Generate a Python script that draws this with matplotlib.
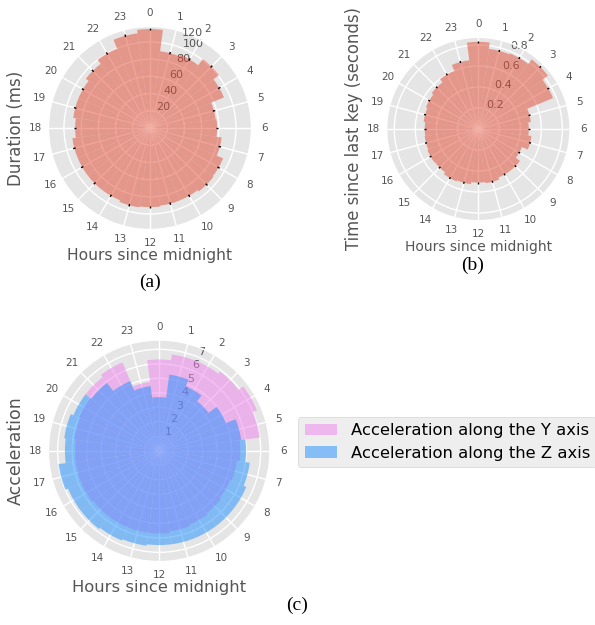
import numpy as np
import matplotlib

matplotlib.use("Agg")
import matplotlib.pyplot as plt
from matplotlib.patches import Patch

plt.style.use("ggplot")

HOURS = list(range(24))
HOUR_LABELS = [str(h) for h in HOURS]

# (a) keystroke duration, ms
DURATION = [115, 90, 92, 101, 93, 77, 78, 84, 92, 93, 91, 91,
            92, 93, 91, 91, 91, 91, 87, 90, 90, 94, 100, 111]
DURATION_ERR = [1.5] * 24
DURATION_TICKS = [20, 40, 60, 80, 100]

# (b) time since last key, s
GAP = [0.83, 0.77, 0.78, 0.835, 0.77, 0.505, 0.48, 0.51, 0.45, 0.50, 0.50, 0.52,
       0.51, 0.53, 0.54, 0.52, 0.525, 0.515, 0.51, 0.525, 0.54, 0.56, 0.60, 0.66]
GAP_ERR = [0.01] * 24
GAP_TICKS = [0.2, 0.4, 0.6, 0.8]

# (c) acceleration along Y and Z
ACC_Y = [6.3, 6.7, 6.7, 6.9, 7.3, 7.0, 5.6, 5.4, 5.3, 5.4, 5.5, 5.6,
         5.7, 5.7, 5.7, 5.7, 5.8, 5.8, 5.8, 5.9, 6.0, 6.4, 6.6, 4.8]
ACC_Z = [3.7, 5.3, 4.8, 4.3, 5.0, 5.7, 6.0, 6.3, 6.5, 6.5, 6.5, 6.5,
         6.5, 6.6, 6.7, 6.8, 6.8, 7.0, 6.5, 6.6, 6.4, 5.9, 5.2, 4.5]
ACC_TICKS = [1, 2, 3, 4, 5, 6, 7]

GREY = "#555555"
SALMON = "#E24A33"


def polar_panel(fig, rect, rmax, ticks):
    ax = fig.add_axes(rect, projection="polar")
    ax.set_theta_zero_location("N")
    ax.set_theta_direction(-1)
    theta = np.deg2rad(np.array(HOURS) * 15.0)
    ax.set_xticks(theta)
    ax.set_xticklabels(HOUR_LABELS, fontsize=7.5, color=GREY)
    ax.tick_params(axis="x", pad=-1)
    ax.set_ylim(0, rmax)
    ax.set_yticks(ticks)
    ax.set_yticklabels([str(t) for t in ticks], fontsize=8, color=GREY)
    ax.grid(True, color="white", linewidth=1.0)
    return ax, theta


def main():
    fig = plt.figure(figsize=(5.95, 6.25), dpi=100)
    fig.patch.set_facecolor("white")
    width = np.deg2rad(15.0)

    # (a)
    ax, theta = polar_panel(fig, [0.0815, 0.6328, 0.3412, 0.3248], 118, DURATION_TICKS)
    ax.bar(theta, DURATION, width=width, color=SALMON, alpha=0.5, linewidth=0)
    ax.errorbar(theta, DURATION, yerr=DURATION_ERR, fmt="none", ecolor="black", elinewidth=1)
    ax.text(np.deg2rad(24), 121, "120", fontsize=8, color=GREY, ha="center", va="center", clip_on=False)
    ax.set_ylabel("Duration (ms)", fontsize=12, color=GREY, labelpad=17)
    ax.set_xlabel("Hours since midnight", fontsize=11.2, color=GREY, labelpad=0)
    fig.text(0.252, 0.548, "(a)", fontsize=14, family="Liberation Serif", ha="center", va="center")

    # (b)
    ax, theta = polar_panel(fig, [0.6498, 0.6469, 0.3082, 0.2934], 0.873, GAP_TICKS)
    ax.bar(theta, GAP, width=width, color=SALMON, alpha=0.5, linewidth=0)
    ax.errorbar(theta, GAP, yerr=GAP_ERR, fmt="none", ecolor="black", elinewidth=1)
    ax.set_ylabel("Time since last key (seconds)", fontsize=11.9, color=GREY, labelpad=17)
    ax.set_xlabel("Hours since midnight", fontsize=10, color=GREY, labelpad=1)
    fig.text(0.795, 0.576, "(b)", fontsize=14, family="Liberation Serif", ha="center", va="center")

    # (c)
    ax, theta = polar_panel(fig, [0.0813, 0.1014, 0.3724, 0.3546], 7.64, ACC_TICKS)
    ax.bar(theta, ACC_Y, width=width, color="violet", alpha=0.5, linewidth=0)
    ax.bar(theta, ACC_Z, width=width, color="dodgerblue", alpha=0.5, linewidth=0)
    ax.set_ylabel("Acceleration", fontsize=12.5, color=GREY, labelpad=17)
    ax.set_xlabel("Hours since midnight", fontsize=11.8, color=GREY, labelpad=0)
    fig.text(0.5, 0.032, "(c)", fontsize=14, family="Liberation Serif", ha="center", va="center")

    handles = [
        Patch(facecolor="violet", alpha=0.5, label="Acceleration along the Y axis"),
        Patch(facecolor="dodgerblue", alpha=0.5, label="Acceleration along the Z axis"),
    ]
    fig.legend(handles=handles, loc="center left", bbox_to_anchor=(0.501, 0.293),
               fontsize=11.8, frameon=True, facecolor="#EAEAEA", edgecolor="#CCCCCC",
               handlelength=2.0, borderpad=0.4, labelspacing=0.45, borderaxespad=0)

    fig.savefig("out.png", dpi=100)


if __name__ == "__main__":
    main()
